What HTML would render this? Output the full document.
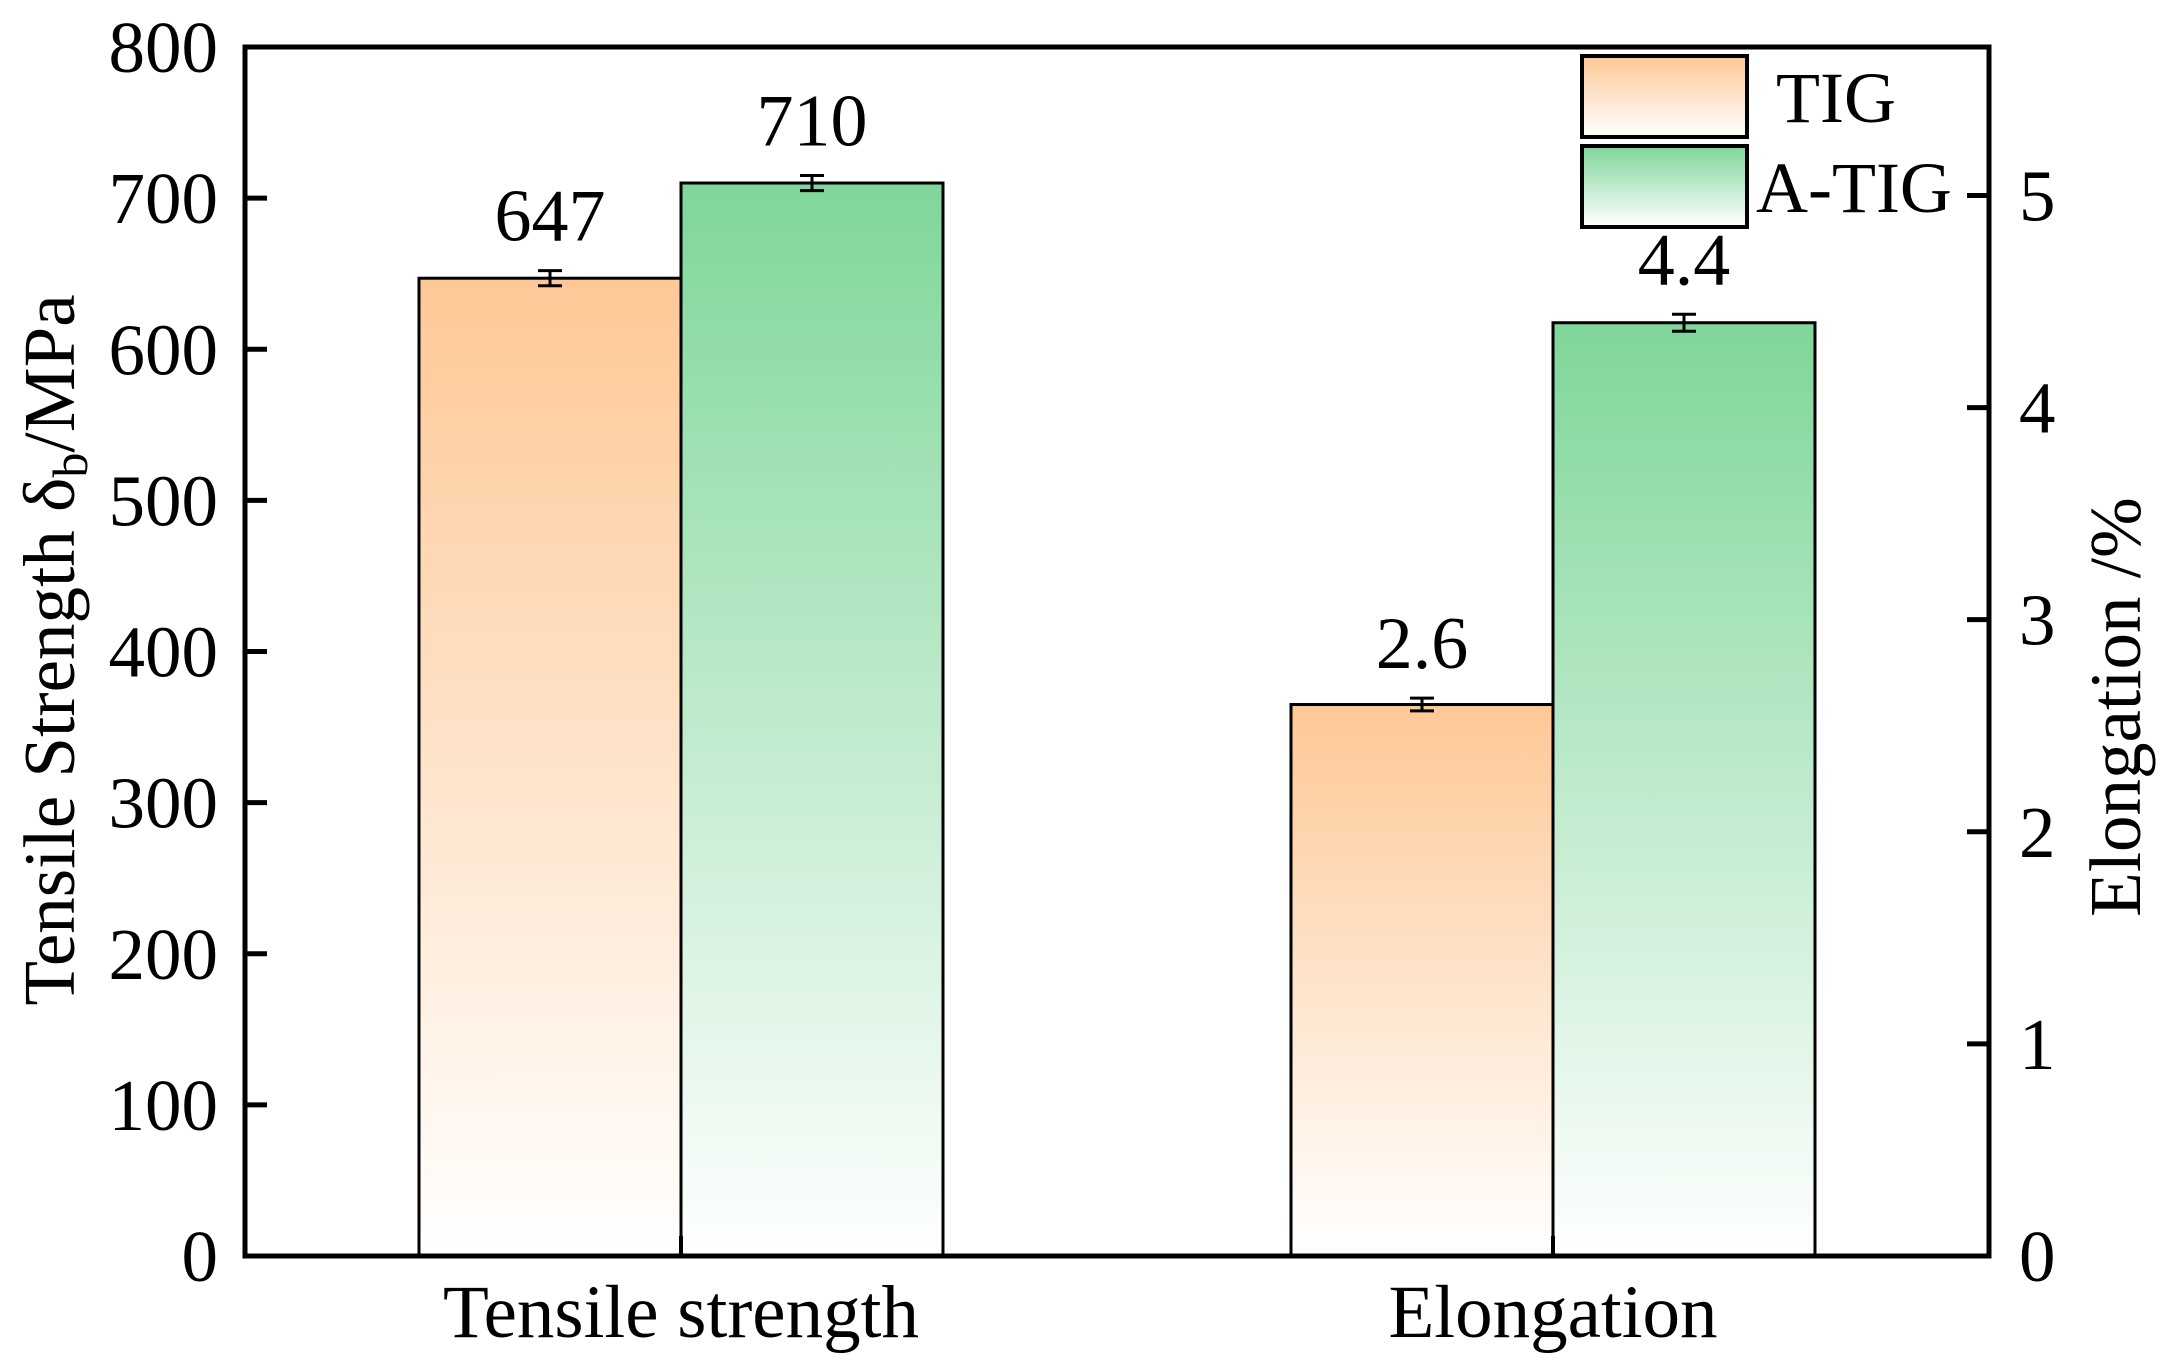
<!DOCTYPE html>
<html><head><meta charset="utf-8"><style>
html,body{margin:0;padding:0;background:#fff;}
svg{display:block;font-family:"Liberation Serif",serif;}
</style></head><body>
<svg id="chart" width="2162" height="1369" viewBox="0 0 2162 1369" xmlns="http://www.w3.org/2000/svg">
<defs>
<linearGradient id="gTIG" x1="0" y1="0" x2="0" y2="1"><stop offset="0" stop-color="#fec896"/><stop offset="1" stop-color="#ffffff"/></linearGradient>
<linearGradient id="gATIG" x1="0" y1="0" x2="0" y2="1"><stop offset="0" stop-color="#7fd69a"/><stop offset="1" stop-color="#ffffff"/></linearGradient>
</defs>
<g id="bars"></g>
<g id="axes"></g>
</svg>
<script>
const categories = ["Tensile strength", "Elongation"];
const series = ["TIG", "A-TIG"];
const tigValues = [647, 2.6];
const atigValues = [710, 4.4];
const tigErrors = [5, 0.03];
const atigErrors = [5, 0.04];
const tigLabels = ["647", "2.6"];
const atigLabels = ["710", "4.4"];
const leftTicks = [0,100,200,300,400,500,600,700,800];
const rightTicks = [0,1,2,3,4,5];

const L=245, R=1989, T=47, B=1256;
const leftMax=800, rightMax=5.7;
const NS="http://www.w3.org/2000/svg";
const svg=document.getElementById('chart');
const gb=document.getElementById('bars');
const ga=document.getElementById('axes');
function yL(v){return B-(v/leftMax)*(B-T);}
function yR(v){return B-(v/rightMax)*(B-T);}
function xCat(i){return L+(R-L)*(0.25+0.5*i);}
const barW=262;
function mk(tag,attrs,parent,text){const e=document.createElementNS(NS,tag);for(const k in attrs)e.setAttribute(k,attrs[k]);if(text!==undefined)e.textContent=text;(parent||svg).appendChild(e);return e;}

function drawBar(i,val,err,lab,grad,sIdx){
  const ys = i===0 ? yL : yR;
  const x = xCat(i) + (sIdx===0 ? -barW : 0);
  const y = ys(val);
  const r = mk('rect',{x:x,y:y,width:barW,height:B-y,fill:'url(#'+grad+')',stroke:'#000','stroke-width':3},gb);
  
  
  const cx = x+barW/2;
  const y1=ys(val+err), y2=ys(val-err);
  const eb = mk('path',{d:`M${cx-12},${y1}H${cx+12}M${cx},${y1}V${y2}M${cx-12},${y2}H${cx+12}`,stroke:'#000','stroke-width':3,fill:'none'},gb);
  
  
  const t = mk('text',{x:cx,y:y1-30,'text-anchor':'middle','font-size':74},gb,lab);
  
  
}
for(let i=0;i<categories.length;i++){
  drawBar(i,tigValues[i],tigErrors[i],tigLabels[i],'gTIG',0);
  drawBar(i,atigValues[i],atigErrors[i],atigLabels[i],'gATIG',1);
}
const fr=mk('rect',{x:L,y:T,width:R-L,height:B-T,fill:'none',stroke:'#000','stroke-width':5},ga);


leftTicks.forEach(v=>{
  const y=yL(v);
  if(v>0&&v<leftMax){const tk=mk('line',{x1:L,x2:L+22,y1:y,y2:y,stroke:'#000','stroke-width':5},ga);
  
  }
  const t=mk('text',{x:218,y:y+25,'text-anchor':'end','font-size':73},ga,String(v));
  
  
});
rightTicks.forEach(v=>{
  const y=yR(v);
  if(v>0){const tk=mk('line',{x1:R-22,x2:R,y1:y,y2:y,stroke:'#000','stroke-width':5},ga);
  
  }
  const t=mk('text',{x:2019,y:y+25,'text-anchor':'start','font-size':73},ga,String(v));
  
  
});
categories.forEach((c,i)=>{
  const x=xCat(i);
  const tk=mk('line',{x1:x,x2:x,y1:B,y2:B-20,stroke:'#000','stroke-width':4},ga);
  
  
  const t=mk('text',{x:x,y:1337,'text-anchor':'middle','font-size':75},ga,c);
  
  
});
const yt=mk('text',{x:0,y:0,'text-anchor':'middle','font-size':73,transform:'translate(74,650) rotate(-90)'},ga);


yt.appendChild(document.createTextNode('Tensile Strength δ'));
mk('tspan',{'font-size':50,dy:13},yt,'b');
mk('tspan',{dy:-13},yt,'/MPa');
const rt=mk('text',{x:0,y:0,'text-anchor':'middle','font-size':73,transform:'translate(2140,707) rotate(-90)'},ga,'Elongation /%');


const legY=[56,146];
const legG=['gTIG','gATIG'];
const legTX=[1776,1756];
series.forEach((s,i)=>{
  const r=mk('rect',{x:1582,y:legY[i],width:165,height:81,fill:'url(#'+legG[i]+')',stroke:'#000','stroke-width':4},ga);
  
  
  const t=mk('text',{x:legTX[i],y:legY[i]+66,'font-size':72},ga,s);
  
  
});
</script>
</body></html>
